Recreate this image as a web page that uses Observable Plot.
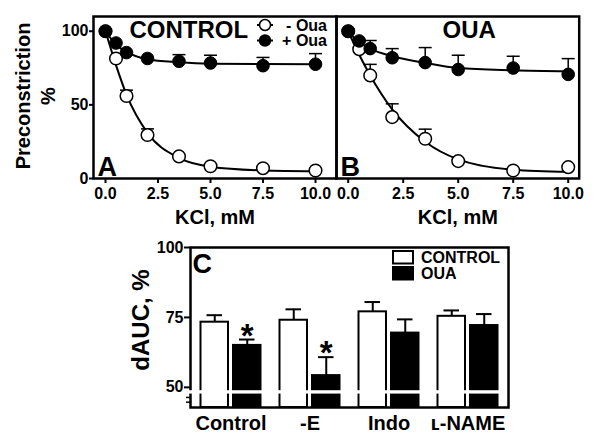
<!DOCTYPE html>
<html><head><meta charset="utf-8">
<script src="https://cdn.jsdelivr.net/npm/d3@7"></script>
<script src="https://cdn.jsdelivr.net/npm/@observablehq/plot@0.6"></script>
<style>
body{margin:0;background:#fff;}
#wrap{position:relative;width:600px;height:443px;overflow:hidden;background:#fff;font-family:"Liberation Sans",Arial,sans-serif;font-weight:bold;}
#wrap > svg{position:absolute;}
</style></head><body><div id="wrap"></div>
<script>
// ---------- Panels A & B: KCl concentration-response ----------
const kcl = [0, 0.5, 1, 2, 3.5, 5, 7.5, 10];
const kclTicks = [0, 2.5, 5, 7.5, 10];
const preTicks = [0, 50, 100];
// CONTROL (panel A)
const ctrlMinusOua    = [100, 81.5, 56, 29.5, 15, 8.3, 7, 5.4];
const ctrlMinusOuaErr = [0, 0, 4, 4.2, 0, 0, 0, 0];
const ctrlMinusFit    = [100, 77, 57, 31, 14, 8, 5.5, 5];
const ctrlPlusOua     = [100, 92, 85.5, 81.5, 79.6, 78.4, 76.6, 77.6];
const ctrlPlusOuaErr  = [0, 0, 0, 0, 4.5, 5.3, 5.6, 7.2];
const ctrlPlusFit     = [100, 91, 86, 81, 79, 78, 77.7, 77.6];
// OUA (panel B)
const ouaMinusOua     = [100, 87.8, 70, 41.7, 27, 11.8, 5.4, 7.7];
const ouaMinusOuaErr  = [0, 0, 7.5, 9, 6.5, 0, 0, 0];
const ouaMinusFit     = [100, 84, 70, 47, 25, 13, 6, 4.5];
const ouaPlusOua      = [100, 93.4, 88.2, 82, 78.7, 74, 75, 70.7];
const ouaPlusOuaErr   = [0, 0, 5.5, 6.2, 10.2, 9.7, 8, 10.7];
const ouaPlusFit      = [100, 92, 88, 83, 78.5, 75, 73.5, 72.8];

// ---------- Panel C: dAUC ----------
const groups = ["Control", "-E", "Indo", "ʟ-NAME"];
const dAucControl    = [73.3, 74, 77, 75.4];
const dAucControlErr = [2.5, 3.9, 3.5, 2.1];
const dAucOua        = [65, 54.2, 69.4, 72.1];
const dAucOuaErr     = [2.1, 6.6, 4.9, 4.1];
const significant    = [true, true, false, false];
const dAucTicks  = [50, 75, 100];
const dAucDomain = [42.8, 100];
const breakRange = [47.6, 48.8];
const breakTicks = [46.4, 44.7];

const FONT = '"Liberation Sans", Arial, sans-serif';
const capSymbol = {draw(ctx, size) { const r = Math.sqrt(size / Math.PI); ctx.moveTo(-r, 0); ctx.lineTo(r, 0); }};

function curvePanel(o) {
  const rows = kcl.map((x, i) => ({x, m: o.minus[i], me: o.minusErr[i], mf: o.minusFit[i],
                                        p: o.plus[i], pe: o.plusErr[i], pf: o.plusFit[i]}));
  const mErr = rows.filter(d => d.me > 0), pErr = rows.filter(d => d.pe > 0);
  const marks = [
    Plot.frame({strokeWidth: 2.5}),
    Plot.axisX(kclTicks, {tickFormat: d3.format(".1f"), tickSize: 5, tickPadding: 4, strokeWidth: 2, label: null, fontSize: 16}),
    Plot.ruleX(mErr, {x: "x", y1: "m", y2: d => d.m + d.me, strokeWidth: 1.5}),
    Plot.dot(mErr, {x: "x", y: d => d.m + d.me, symbol: capSymbol, r: 6.5, stroke: "black", strokeWidth: 1.5}),
    Plot.ruleX(pErr, {x: "x", y1: "p", y2: d => d.p + d.pe, strokeWidth: 1.5}),
    Plot.dot(pErr, {x: "x", y: d => d.p + d.pe, symbol: capSymbol, r: 6.5, stroke: "black", strokeWidth: 1.5}),
    Plot.line(rows, {x: "x", y: "mf", curve: "monotone-x", strokeWidth: 2}),
    Plot.line(rows, {x: "x", y: "pf", curve: "monotone-x", strokeWidth: 2}),
    Plot.dot(rows, {x: "x", y: "m", r: 6.3, fill: "white", stroke: "black", strokeWidth: 1.5}),
    Plot.dot(rows, {x: "x", y: "p", r: 6.3, fill: "black", stroke: "black", strokeWidth: 1}),
    Plot.text([o.title], {frameAnchor: "top-left", textAnchor: "start", lineAnchor: "top", dx: o.titleDx, dy: 4, fontSize: 24}),
    Plot.text([o.letter], {frameAnchor: "bottom-left", textAnchor: "start", lineAnchor: "bottom", dx: 4, dy: -3, fontSize: 27}),
    Plot.text(["KCl, mM"], {frameAnchor: "bottom", lineAnchor: "middle", dy: 39, fontSize: 20})
  ];
  if (o.showY) {
    marks.push(Plot.axisY(preTicks, {tickSize: 4, tickPadding: 1, strokeWidth: 2, label: null, fontSize: 16}));
  }
  const svg = Plot.plot({
    width: o.width, height: 230,
    marginLeft: o.marginLeft, marginRight: o.marginRight, marginTop: 16, marginBottom: 52,
    style: {fontFamily: FONT, fontWeight: "bold", fontSize: "15px", color: "black", background: "transparent", overflow: "visible"},
    x: {domain: o.xDomain},
    y: {domain: [0, 110], axis: o.showY ? undefined : null},
    marks
  });
  svg.style.left = o.left + "px"; svg.style.top = "0px";
  return svg;
}

const wrap = document.getElementById("wrap");
wrap.append(curvePanel({minus: ctrlMinusOua, minusErr: ctrlMinusOuaErr, minusFit: ctrlMinusFit,
  plus: ctrlPlusOua, plusErr: ctrlPlusOuaErr, plusFit: ctrlPlusFit,
  title: "CONTROL", letter: "A", titleDx: 36, showY: true,
  left: 0, width: 338, marginLeft: 93, marginRight: 2, xDomain: [-0.571, 11.0]}));
wrap.append(curvePanel({minus: ouaMinusOua, minusErr: ouaMinusOuaErr, minusFit: ouaMinusFit,
  plus: ouaPlusOua, plusErr: ouaPlusOuaErr, plusFit: ouaPlusFit,
  title: "OUA", letter: "B", titleDx: 106, showY: false,
  left: 326, width: 274, marginLeft: 10, marginRight: 21.3, xDomain: [-0.532, 10.5]}));

// Panel C
const barRows = groups.flatMap((g, i) => [
  {g, t: "CONTROL", v: dAucControl[i], e: dAucControlErr[i], sig: false},
  {g, t: "OUA", v: dAucOua[i], e: dAucOuaErr[i], sig: significant[i]}
]);
const ctl = barRows.filter(d => d.t === "CONTROL"), oua = barRows.filter(d => d.t === "OUA");
const svgC = Plot.plot({
  width: 600, height: 213,
  marginLeft: 190, marginRight: 92, marginTop: 17, marginBottom: 36,
  style: {fontFamily: FONT, fontWeight: "bold", fontSize: "15px", color: "black", background: "transparent", overflow: "visible"},
  x: {type: "band", domain: groups, padding: 0},
  y: {domain: dAucDomain},
  marks: [
    Plot.frame({strokeWidth: 2.5}),
    Plot.ruleX(ctl, {x: "g", y1: "v", y2: d => d.v + d.e, dx: -16.25, strokeWidth: 2}),
    Plot.tickY(ctl, {x: "g", y: d => d.v + d.e, insetLeft: 15.5, insetRight: 48, strokeWidth: 2}),
    Plot.ruleX(oua, {x: "g", y1: "v", y2: d => d.v + d.e, dx: 16.25, strokeWidth: 2}),
    Plot.tickY(oua, {x: "g", y: d => d.v + d.e, insetLeft: 48, insetRight: 15.5, strokeWidth: 2}),
    Plot.barY(ctl, {x: "g", y1: dAucDomain[0], y2: "v", insetLeft: 9.5, insetRight: 42, fill: "white", stroke: "black", strokeWidth: 2}),
    Plot.barY(oua, {x: "g", y1: dAucDomain[0], y2: "v", insetLeft: 42, insetRight: 9.5, fill: "black", stroke: "black", strokeWidth: 2}),
    Plot.rect([breakRange], {y1: d => d[0], y2: d => d[1], fill: "white", insetLeft: -3, insetRight: 3}),
    Plot.text(oua.filter(d => d.sig), {x: "g", y: d => d.v + d.e, text: () => "*", dx: 16.25, dy: 7, lineAnchor: "bottom", fontSize: 33}),
    Plot.axisY(dAucTicks, {tickSize: 6, tickPadding: 1, strokeWidth: 2, label: null, fontSize: 16}),
    Plot.axisY(breakTicks, {tickSize: 4, tickFormat: () => "", strokeWidth: 1.5, label: null}),
    Plot.axisX({tickSize: 0, tickPadding: 8, label: null, fontSize: 20}),
    Plot.text(["C"], {frameAnchor: "top-left", textAnchor: "start", lineAnchor: "top", dx: 2, dy: 6, fontSize: 27})
  ]
});
svgC.style.left = "0px"; svgC.style.top = "230px";
wrap.append(svgC);

// Axis titles and legends (overlay)
const leg = d3.select(wrap).append("svg").attr("width", 600).attr("height", 443)
  .style("left", "0px").style("top", "0px").style("font-family", FONT).style("font-weight", "bold");
const yTitles = [
  {label: "Preconstriction", x: 23, y: 96, size: 20},
  {label: "%", x: 48, y: 96, size: 20},
  {label: "dAUC, %", x: 141, y: 320, size: 24}
];
yTitles.forEach(d => {
  leg.append("text").attr("transform", `translate(${d.x},${d.y}) rotate(-90)`).attr("text-anchor", "middle")
    .attr("dy", "0.35em").attr("font-size", d.size).text(d.label);
});
// panel A legend
const legA = [{label: "- Oua", fill: "white", cy: 25}, {label: "+ Oua", fill: "black", cy: 40.5}];
legA.forEach(d => {
  leg.append("line").attr("x1", 257).attr("x2", 273).attr("y1", d.cy).attr("y2", d.cy).attr("stroke", "black").attr("stroke-width", 2);
  leg.append("circle").attr("cx", 265).attr("cy", d.cy).attr("r", 5.5).attr("fill", d.fill).attr("stroke", "black").attr("stroke-width", 1.5);
  leg.append("text").attr("x", 327).attr("y", d.cy).attr("dy", "0.35em").attr("text-anchor", "end").attr("font-size", 16).text(d.label);
});
// panel C legend
const legC = [{label: "CONTROL", fill: "white", y: 251}, {label: "OUA", fill: "black", y: 267}];
legC.forEach(d => {
  leg.append("rect").attr("x", 393).attr("y", d.y).attr("width", 20).attr("height", 12.5).attr("fill", d.fill).attr("stroke", "black").attr("stroke-width", 2);
  leg.append("text").attr("x", 421).attr("y", d.y + 6.5).attr("dy", "0.35em").attr("font-size", 16).text(d.label);
});
</script></body></html>
